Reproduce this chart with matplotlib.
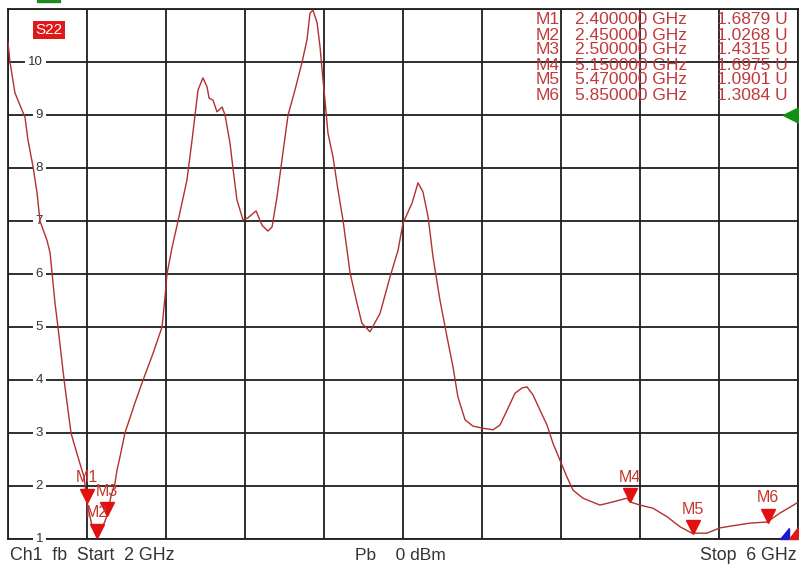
import matplotlib
matplotlib.use('Agg')
import matplotlib.pyplot as plt
from matplotlib.transforms import offset_copy
from matplotlib.patches import Polygon, Rectangle

plt.rcParams['font.family'] = ['Liberation Sans', 'DejaVu Sans']

# trace S22 (GHz, U)
freq = [2.000, 2.010, 2.035, 2.071, 2.086, 2.101, 2.127, 2.147, 2.162, 2.197,
        2.213, 2.223,
        2.238, 2.253, 2.284, 2.319, 2.354, 2.385, 2.400, 2.425, 2.450, 2.476,
        2.501, 2.521, 2.542, 2.552, 2.567, 2.592, 2.643, 2.684, 2.734, 2.780,
        2.795, 2.805, 2.830, 2.861, 2.906, 2.932, 2.947, 2.962, 2.987, 3.008,
        3.018, 3.038, 3.058, 3.084, 3.099, 3.124, 3.139, 3.159, 3.190, 3.215,
        3.256, 3.286, 3.316, 3.337, 3.362, 3.387, 3.418, 3.453, 3.489, 3.514,
        3.529, 3.544, 3.565, 3.580, 3.595, 3.605, 3.620, 3.646, 3.671, 3.696,
        3.732, 3.767, 3.792, 3.833, 3.884, 3.934, 3.975, 4.000, 4.046, 4.076,
        4.101, 4.127, 4.152, 4.187, 4.223, 4.253, 4.278, 4.314, 4.354, 4.405,
        4.456, 4.491, 4.527, 4.567, 4.603, 4.628, 4.658, 4.694, 4.729, 4.759,
        4.780, 4.830, 4.861, 4.911, 4.997, 5.063, 5.134, 5.149, 5.200, 5.266,
        5.337, 5.403, 5.463, 5.539, 5.605, 5.671, 5.757, 5.843, 5.909, 5.995]
s22 = [10.38, 10.00, 9.42, 9.09, 8.96, 8.53, 8.02, 7.53, 7.00, 6.64,
       6.40, 6.02,
       5.45, 5.00, 4.00, 3.00, 2.55, 2.17, 1.69, 1.25, 1.03, 1.20,
       1.43, 1.80, 2.06, 2.30, 2.55, 3.00, 3.57, 4.00, 4.50, 5.00,
       5.57, 6.00, 6.49, 7.00, 7.77, 8.53, 9.00, 9.47, 9.70, 9.53,
       9.32, 9.28, 9.06, 9.15, 9.00, 8.47, 8.00, 7.40, 7.02, 7.06,
       7.19, 6.92, 6.81, 6.89, 7.45, 8.15, 9.00, 9.47, 10.00, 10.42,
       10.92, 10.98, 10.74, 10.28, 9.66, 9.28, 8.66, 8.20, 7.58, 7.02,
       6.02, 5.45, 5.07, 4.91, 5.26, 5.94, 6.45, 6.96, 7.34, 7.72,
       7.55, 7.08, 6.32, 5.51, 4.81, 4.25, 3.68, 3.25, 3.13, 3.09,
       3.06, 3.15, 3.43, 3.75, 3.85, 3.87, 3.72, 3.43, 3.15, 2.81,
       2.62, 2.17, 1.92, 1.77, 1.64, 1.70, 1.77, 1.70, 1.64, 1.58,
       1.42, 1.23, 1.11, 1.11, 1.21, 1.25, 1.30, 1.32, 1.49, 1.68]

# markers
mk_names = ['M1', 'M2', 'M3', 'M4', 'M5', 'M6']
mk_freq = [2.40, 2.45, 2.50, 5.15, 5.47, 5.85]
mk_val = [1.6879, 1.0268, 1.4315, 1.6975, 1.0901, 1.3084]

y_ticks = [1, 2, 3, 4, 5, 6, 7, 8, 9, 10]

W, H = 799, 570
fig = plt.figure(figsize=(W / 100, H / 100), dpi=100)
fig.patch.set_facecolor('white')

ax = fig.add_axes([8 / W, 31 / H, 790 / W, 530 / H])
ax.set_xlim(2, 6)
ax.set_ylim(1, 11)
ax.set_xticks([2 + 0.4 * i for i in range(11)])
ax.set_yticks(range(1, 12))
ax.tick_params(length=0, labelbottom=False, labelleft=False)
ax.grid(True, color='#1e1e1e', lw=1.3)
for sp in ax.spines.values():
    sp.set_color('#1e1e1e')
    sp.set_linewidth(1.3)

ax.plot(freq, s22, color='#b3302c', lw=1.0, zorder=3)

# marker triangles, tip on the trace
tri_tr = offset_copy(ax.transData, fig=fig, x=0, y=7, units='dots')
ax.plot(mk_freq, mk_val, 'v', ms=10, color='#e41010', mec='#e41010',
        transform=tri_tr, zorder=5, clip_on=False)
for n, f, v in zip(mk_names, mk_freq, mk_val):
    ax.annotate(n, (f, v), xytext=(0, 18), textcoords='offset points',
                ha='center', va='center', fontsize=11.5, color='#c0392b', zorder=6)

# y labels inside the grid (trace draws over them)
for v in y_ticks:
    ax.text(0.0443, v, str(v), transform=ax.get_yaxis_transform(),
            ha='right', va='center', fontsize=9.5, color='#333333', zorder=2.7,
            bbox=dict(boxstyle='square,pad=0.2', fc='white', ec='none'))

# trace name
ax.text(26 / 790 + 0.002, 1 - 21 / 530, 'S22', transform=ax.transAxes,
        ha='left', va='center', fontsize=11, color='white', zorder=6,
        bbox=dict(boxstyle='square,pad=0.15', fc='#e01818', ec='none'))

# marker table
mk_col = '#c0393b'
for i, (n, f, v) in enumerate(zip(mk_names, mk_freq, mk_val)):
    yy = 1 - (20 + 15 * i) / H
    fig.text(536 / W, yy, n, ha='left', va='center', fontsize=12.5, color=mk_col)
    fig.text(575 / W, yy, f'{f:.6f} GHz', ha='left', va='center', fontsize=12.5, color=mk_col)
    fig.text(788 / W, yy, f'{v:.4f} U', ha='right', va='center', fontsize=12.5, color=mk_col)

# reference level arrow at right edge
ref_tr = offset_copy(ax.transData, fig=fig, x=-7, y=0, units='dots')
ax.plot([6], [9], '<', ms=11, color='#109010', transform=ref_tr, clip_on=False, zorder=6)

# small indicators bottom right
ax.add_patch(Polygon([(0.977, 0.0), (0.988, 0.0), (0.988, 0.02)], closed=True,
                     transform=ax.transAxes, color='#1a1ad0', zorder=6, clip_on=False))
ax.add_patch(Polygon([(0.989, 0.0), (1.0, 0.0), (1.0, 0.022)], closed=True,
                     transform=ax.transAxes, color='#e01818', zorder=6, clip_on=False))

# cut-off header strip
fig.patches.append(Rectangle((37 / W, 1 - 2 / H), 23 / W, 2 / H, transform=fig.transFigure,
                             color='#1d8a1d', zorder=1))

# bottom status line
yb = 1 - 556 / H
fig.text(10 / W, yb, 'Ch1  fb  Start  2 GHz', ha='left', va='center', fontsize=12.8, color='#333333')
fig.text(355 / W, yb, 'Pb    0 dBm', ha='left', va='center', fontsize=12.5, color='#333333')
fig.text(797 / W, yb, 'Stop  6 GHz', ha='right', va='center', fontsize=12.8, color='#333333')

fig.savefig('out.png', dpi=100, facecolor='white')
